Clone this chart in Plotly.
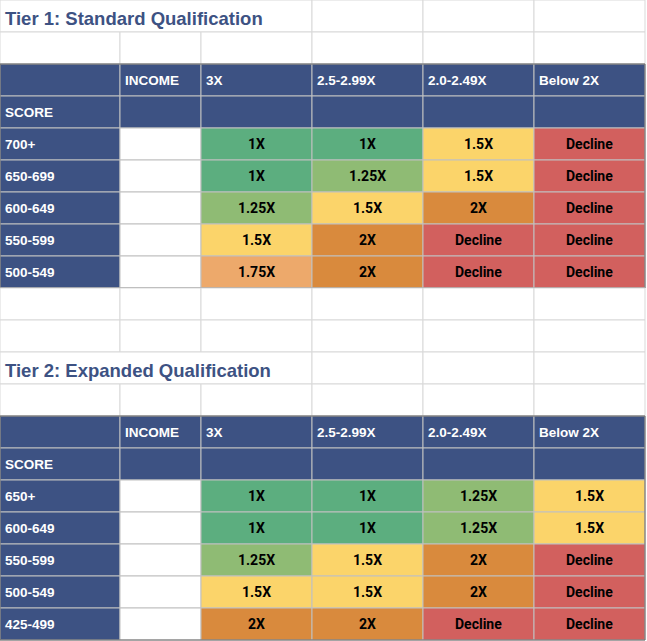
import plotly.graph_objects as go

# Данные таблиц
income_bands = ["3X", "2.5-2.99X", "2.0-2.49X", "Below 2X"]

tier1_title = "Tier 1: Standard Qualification"
tier1_scores = ["700+", "650-699", "600-649", "550-599", "500-549"]
tier1_values = [
    ["1X", "1X", "1.5X", "Decline"],
    ["1X", "1.25X", "1.5X", "Decline"],
    ["1.25X", "1.5X", "2X", "Decline"],
    ["1.5X", "2X", "Decline", "Decline"],
    ["1.75X", "2X", "Decline", "Decline"],
]

tier2_title = "Tier 2: Expanded Qualification"
tier2_scores = ["650+", "600-649", "550-599", "500-549", "425-499"]
tier2_values = [
    ["1X", "1X", "1.25X", "1.5X"],
    ["1X", "1X", "1.25X", "1.5X"],
    ["1.25X", "1.5X", "2X", "Decline"],
    ["1.5X", "1.5X", "2X", "Decline"],
    ["2X", "2X", "Decline", "Decline"],
]

# Стили
NAVY = "#3d5283"
value_colors = {
    "1X": "#5cae7f",
    "1.25X": "#8fbb74",
    "1.5X": "#fbd46a",
    "1.75X": "#eda96b",
    "2X": "#d98a3d",
    "Decline": "#d2605e",
}
col_edges = [0, 120, 201, 312, 423, 534, 645]
ROW_H = 32
W, H = 647, 641
GRID = "#d9d9d9"
INNER = "#c0c0c0"
OUTER = "#6b6b6b"

fig = go.Figure()
shapes = []
annotations = []


def cell(r, c0, c1, fill="white", line=GRID):
    shapes.append(dict(type="rect", xref="x", yref="y",
                       x0=col_edges[c0], x1=col_edges[c1],
                       y0=r * ROW_H, y1=(r + 1) * ROW_H,
                       fillcolor=fill, line=dict(color=line, width=1), layer="below"))


def text(r, c, s, color="white", center=False, size=13.5, family="Arial", dy=0):
    if center:
        x = (col_edges[c] + col_edges[c + 1]) / 2
        anchor = "center"
    else:
        x = col_edges[c] + 3
        anchor = "left"
    annotations.append(dict(x=x, y=r * ROW_H + ROW_H / 2 + dy, xref="x", yref="y",
                            text=s, showarrow=False, xanchor=anchor, yanchor="middle",
                            font=dict(family=family, size=size, color=color)))


def blank_row(r):
    for c in range(6):
        cell(r, c, c + 1)


def title_row(r, title):
    cell(r, 0, 3)
    for c in range(3, 6):
        cell(r, c, c + 1)
    text(r, 0, "<b>%s</b>" % title, color=NAVY, size=18.5, dy=2)


def tier_table(r0, scores, values):
    # шапка
    for c in range(6):
        cell(r0, c, c + 1, fill=NAVY, line=INNER)
        cell(r0 + 1, c, c + 1, fill=NAVY, line=INNER)
    text(r0, 1, "<b>INCOME</b>")
    for i, band in enumerate(income_bands):
        text(r0, i + 2, "<b>%s</b>" % band)
    text(r0 + 1, 0, "<b>SCORE</b>")
    # строки
    for j, (score, row) in enumerate(zip(scores, values)):
        r = r0 + 2 + j
        cell(r, 0, 1, fill=NAVY, line=INNER)
        cell(r, 1, 2, fill="white", line=INNER)
        text(r, 0, "<b>%s</b>" % score)
        for i, v in enumerate(row):
            cell(r, i + 2, i + 3, fill=value_colors[v], line=INNER)
            text(r, i + 2, "<b>%s</b>" % v, color="black", center=True, family="Roboto", size=14)
    # тёмная рамка вокруг таблицы
    n = 2 + len(scores)
    shapes.append(dict(type="rect", xref="x", yref="y",
                       x0=col_edges[0], x1=col_edges[-1],
                       y0=r0 * ROW_H, y1=(r0 + n) * ROW_H,
                       line=dict(color=OUTER, width=1), layer="below"))


title_row(0, tier1_title)
blank_row(1)
tier_table(2, tier1_scores, tier1_values)
blank_row(9)
blank_row(10)
title_row(11, tier2_title)
blank_row(12)
tier_table(13, tier2_scores, tier2_values)

fig.update_layout(
    width=W, height=H,
    margin=dict(l=0, r=0, t=0, b=0),
    paper_bgcolor="white", plot_bgcolor="white",
    xaxis=dict(range=[0, W], visible=False, fixedrange=True),
    yaxis=dict(range=[H, 0], visible=False, fixedrange=True),
    shapes=shapes,
    annotations=annotations,
    showlegend=False,
)

# убираем отступ body, чтобы таблица стояла в углу окна
fig.write_html("out.html", config={"displayModeBar": False},
               post_script="document.body.style.margin='0';")
